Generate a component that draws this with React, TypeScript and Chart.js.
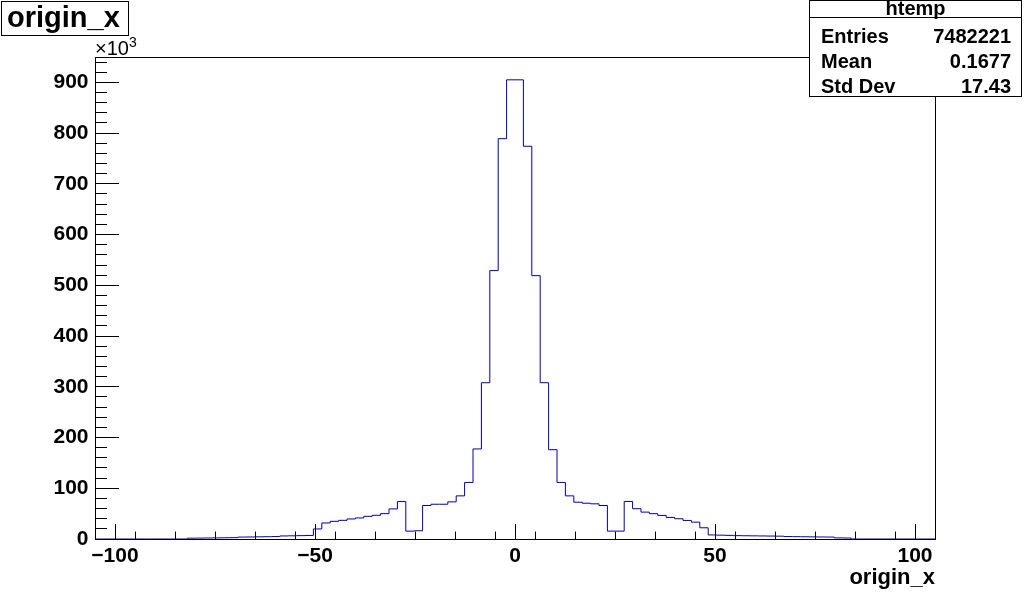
import React, { useEffect, useRef } from "react";
import { Chart, registerables } from "chart.js";

Chart.register(...registerables);

// ---- data ----
const X_MIN = -105;
const X_MAX = 105;
const N_BINS = 100;
const FIRST_FILLED_BIN = 11;
// bin contents in thousands, bins 11..89
const BIN_COUNTS_K = [
  1.6, 1.8, 2.0, 2.2, 2.4, 2.6,
  3.8, 4.0, 4.3, 4.5, 4.8,
  6.0, 6.3, 6.6, 7.0,
  19.8, 31.6, 34.8, 36.8, 39.5, 41.5, 44.7, 46.7, 50.0, 59.3, 73.8,
  15.5, 16.2,
  66.0, 68.5, 68.5, 73.2, 85.0, 111.5, 177.5, 308, 529, 789,
  905, 905,
  774, 519, 308, 176, 111.5, 85.0, 72.5, 70.5, 69.3, 66.0,
  15.5, 15.5,
  74.0, 59.7, 53.0, 49.9, 46.5, 42.5, 39.9, 36.6, 33.2, 22.1,
  8.0, 7.6, 7.2, 6.6, 6.4, 6.2, 6.0, 5.8, 5.6,
  4.8, 4.6, 4.4, 4.2, 4.0, 3.8,
  2.2, 2.0,
];
const Y_MAX_K = 950;
const X_MAJOR_STEP = 50;
const X_MINOR_STEP = 10;
const Y_MAJOR_STEP = 100;
const Y_MINOR_STEP = 20;

const TITLE = "origin_x";
const X_TITLE = "origin_x";
const Y_EXPONENT_BASE = "\u00d710";
const Y_EXPONENT = "3";
const STATS_NAME = "htemp";
const STATS_LABELS = ["Entries", "Mean", "Std Dev"];
const STATS_VALUES = ["7482221", "0.1677", "17.43"];

const FONT = "'Liberation Sans', Arial, Helvetica, sans-serif";
const LINE_COLOR = "#0000aa";

const binWidth = (X_MAX - X_MIN) / N_BINS;
const binCounts = Array.from({ length: N_BINS }, (_, i) => {
  const j = i - FIRST_FILLED_BIN;
  return j >= 0 && j < BIN_COUNTS_K.length ? BIN_COUNTS_K[j] : 0;
});
// point at each bin's left edge carries the bin's content, closing point at the upper edge
const histPoints = binCounts.map((c, i) => ({ x: X_MIN + i * binWidth, y: c }));
histPoints.push({ x: X_MAX, y: 0 });

const rootDecor = {
  id: "rootDecor",
  afterDraw(chart: any) {
    const ctx = chart.ctx as CanvasRenderingContext2D;
    const a = chart.chartArea;
    ctx.save();
    ctx.strokeStyle = "#000";
    ctx.lineWidth = 1;
    // frame
    ctx.strokeRect(
      Math.round(a.left) + 0.5,
      Math.round(a.top) + 0.5,
      Math.round(a.right - a.left),
      Math.round(a.bottom - a.top)
    );
    ctx.fillStyle = "#000";
    ctx.textAlign = "left";
    ctx.textBaseline = "alphabetic";
    // x10^3
    ctx.font = `20px ${FONT}`;
    ctx.fillText(Y_EXPONENT_BASE, a.left, a.top - 2);
    const w = ctx.measureText(Y_EXPONENT_BASE).width;
    ctx.font = `14px ${FONT}`;
    ctx.fillText(Y_EXPONENT, a.left + w, a.top - 10);

    // title box
    ctx.fillStyle = "#fff";
    ctx.fillRect(1, 1, 128, 35);
    ctx.strokeRect(1.5, 1.5, 127, 34);
    ctx.fillStyle = "#000";
    ctx.font = `bold 29px ${FONT}`;
    ctx.fillText(TITLE, 7, 27);

    // stats box
    const bx = 809, by = 0, bw = 213, bh = 97;
    ctx.fillStyle = "#fff";
    ctx.fillRect(bx, by, bw, bh);
    ctx.strokeRect(bx + 0.5, by + 0.5, bw - 1, bh - 1);
    ctx.beginPath();
    ctx.moveTo(bx, 17.5);
    ctx.lineTo(bx + bw, 17.5);
    ctx.stroke();
    ctx.fillStyle = "#000";
    ctx.font = `bold 20px ${FONT}`;
    ctx.textAlign = "center";
    ctx.fillText(STATS_NAME, bx + bw / 2, 15);
    const baselines = [43, 68, 93];
    STATS_LABELS.forEach((lab, i) => {
      ctx.textAlign = "left";
      ctx.fillText(lab, 821, baselines[i]);
      ctx.textAlign = "right";
      ctx.fillText(STATS_VALUES[i], 1011, baselines[i]);
    });
    ctx.restore();
  },
};

export default function App() {
  const ref = useRef<HTMLCanvasElement | null>(null);
  useEffect(() => {
    if (!ref.current) return;
    const tickFont = { family: FONT, size: 21, weight: "bold" as const };
    const chart = new Chart(ref.current, {
      type: "line",
      data: {
        datasets: [
          {
            label: "htemp",
            data: histPoints,
            stepped: "before",
            borderColor: LINE_COLOR,
            borderWidth: 1,
            pointRadius: 0,
            fill: false,
            tension: 0,
          },
        ],
      },
      options: {
        animation: false,
        responsive: false,
        events: [],
        layout: { padding: { top: 57, right: 89, left: 0, bottom: 0 } },
        plugins: { legend: { display: false }, title: { display: false }, tooltip: { enabled: false } },
        scales: {
          x: {
            type: "linear",
            position: "bottom",
            weight: 1,
            min: X_MIN,
            max: X_MAX,
            ticks: {
              stepSize: X_MAJOR_STEP,
              includeBounds: false,
              autoSkip: false,
              maxRotation: 0,
              padding: 20,
              color: "#000",
              font: tickFont,
              callback: (v: any) => (Number(v) < 0 ? "\u2212" + Math.abs(Number(v)) : String(v)),
            },
            grid: { drawOnChartArea: false, drawTicks: true, tickLength: -15, color: "#000", tickColor: "#000", lineWidth: 1 },
            border: { display: false },
            title: {
              display: true,
              text: X_TITLE,
              align: "end",
              color: "#000",
              font: { family: FONT, size: 22, weight: "bold" },
              padding: { top: 0, bottom: 2 },
            },
            afterFit: (s: any) => {
              s.height = 54;
            },
          },
          xMinor: {
            type: "linear",
            position: "bottom",
            weight: 0,
            min: X_MIN,
            max: X_MAX,
            ticks: { stepSize: X_MINOR_STEP, includeBounds: false, display: false, autoSkip: false },
            grid: { drawOnChartArea: false, drawTicks: true, tickLength: -7.5, color: "#000", tickColor: "#000" },
            border: { display: false },
            afterFit: (s: any) => {
              s.height = 0;
            },
          },
          y: {
            type: "linear",
            position: "left",
            weight: 1,
            min: 0,
            max: Y_MAX_K,
            ticks: {
              stepSize: Y_MAJOR_STEP,
              includeBounds: false,
              autoSkip: false,
              padding: 30.5,
              color: "#000",
              font: tickFont,
            },
            grid: { drawOnChartArea: false, drawTicks: true, tickLength: -24, color: "#000", tickColor: "#000" },
            border: { display: false },
            afterFit: (s: any) => {
              s.width = 95;
            },
          },
          yMinor: {
            type: "linear",
            position: "left",
            weight: 0,
            min: 0,
            max: Y_MAX_K,
            ticks: { stepSize: Y_MINOR_STEP, includeBounds: false, display: false, autoSkip: false },
            grid: { drawOnChartArea: false, drawTicks: true, tickLength: -12, color: "#000", tickColor: "#000" },
            border: { display: false },
            afterFit: (s: any) => {
              s.width = 0;
            },
          },
        },
      } as any,
      plugins: [rootDecor],
    });
    return () => chart.destroy();
  }, []);
  return (
    <div style={{ position: "absolute", left: 0, top: 0, width: 1024, height: 593, background: "#fff" }}>
      <canvas ref={ref} width={1024} height={593} style={{ display: "block" }} />
    </div>
  );
}
